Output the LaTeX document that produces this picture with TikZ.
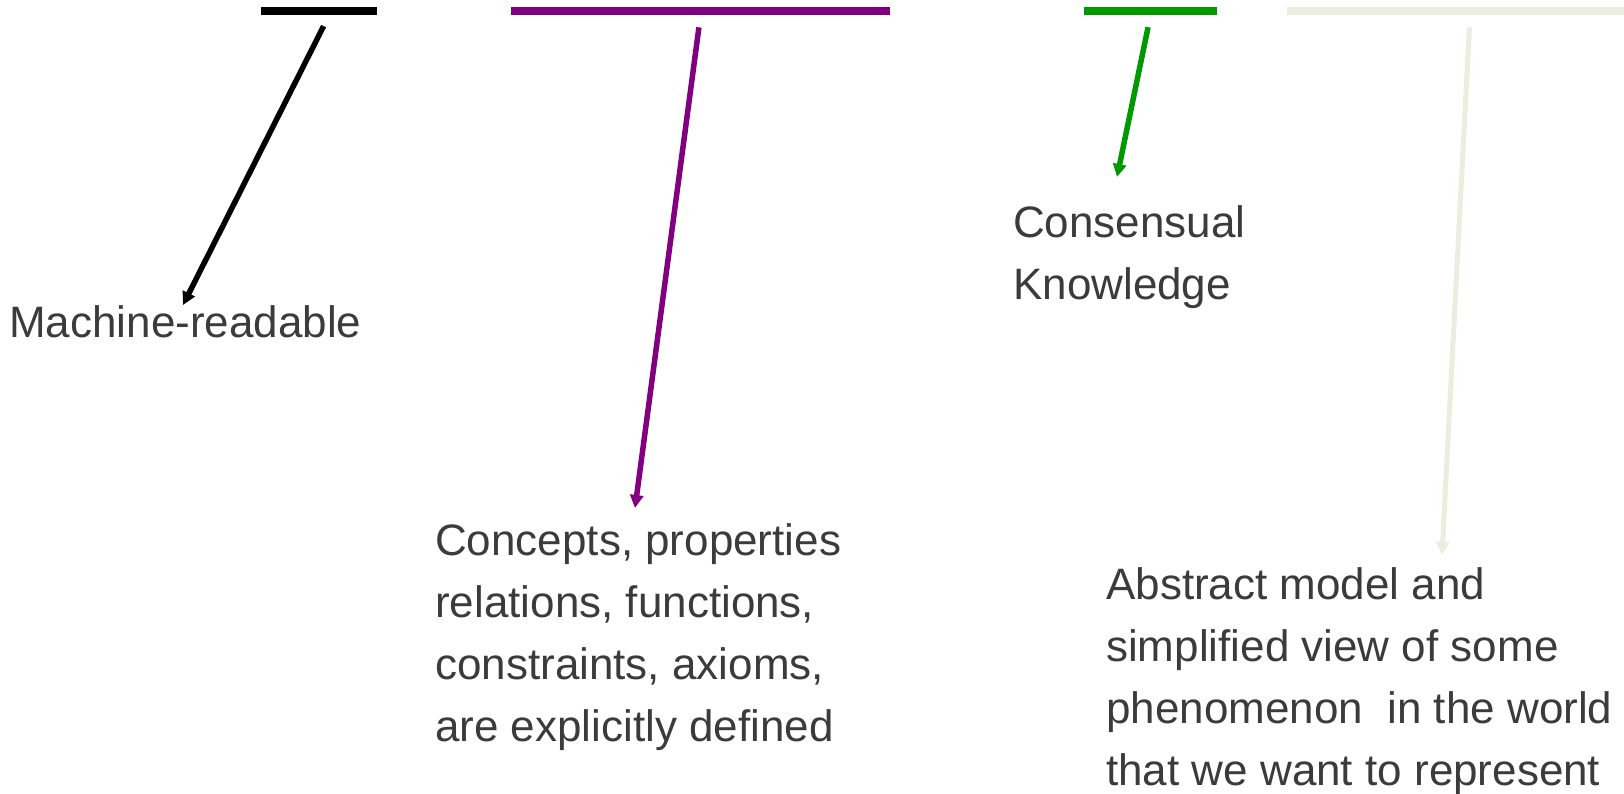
\documentclass[tikz,border=0pt]{standalone}
\usepackage{fontspec}
\setmainfont{Liberation Sans}
\usetikzlibrary{arrows.meta}
\definecolor{txtgray}{HTML}{3B3B3B}
\definecolor{ontpurple}{HTML}{800080}
\definecolor{ontgreen}{HTML}{009900}
\definecolor{ontbeige}{HTML}{EEECE1}
\tikzset{
	bar/.style={rectangle,inner sep=0pt,minimum height=8.5pt},
	pointer/.style={line width=5.5pt,-{Triangle[length=13pt,width=13pt]},shorten <=12pt},
	label/.style={anchor=base west,inner sep=0pt,align=left,text=txtgray,
		font=\fontsize{44}{62}\selectfont}
}
\begin{document}
\begin{tikzpicture}[x=1pt,y=-1pt]
		\useasboundingbox (0,0) rectangle (1624,794);
		\node[bar,fill=black,minimum width=116pt] (mrbar) at (319,11) {};
		\node[bar,fill=ontpurple,minimum width=379pt] (exbar) at (700.5,11) {};
		\node[bar,fill=ontgreen,minimum width=133pt] (cnbar) at (1150.5,11) {};
		\node[bar,fill=ontbeige,minimum width=360pt] (abbar) at (1467,11) {};
		% multi-line labels sit on their last baseline
		\node[label] (mr) at (9,337) {Machine-readable};
		\node[label] (ex) at (435,741) {Concepts, properties\\relations, functions,\\constraints, axioms,\\are explicitly defined};
		\node[label] (cn) at (1013,299) {Consensual\\Knowledge};
		\node[label] (ab) at (1106,785) {Abstract model and\\simplified view of some\\phenomenon\ \ in the world\\that we want to represent};
		\coordinate (mrtip) at (183,305);
		\coordinate (extip) at (635,508);
		\coordinate (cntip) at (1117,177);
		\coordinate (abtip) at (1442,555);
		\draw[pointer,black] ([xshift=10pt]mrbar.south)--(mrtip);
		\draw[pointer,ontpurple] (exbar.south)--(extip);
		\draw[pointer,ontgreen] (cnbar.south)--(cntip);
		\draw[pointer,ontbeige,line width=5pt] ([xshift=3pt]abbar.south)--(abtip);
	\end{tikzpicture}
\end{document}
